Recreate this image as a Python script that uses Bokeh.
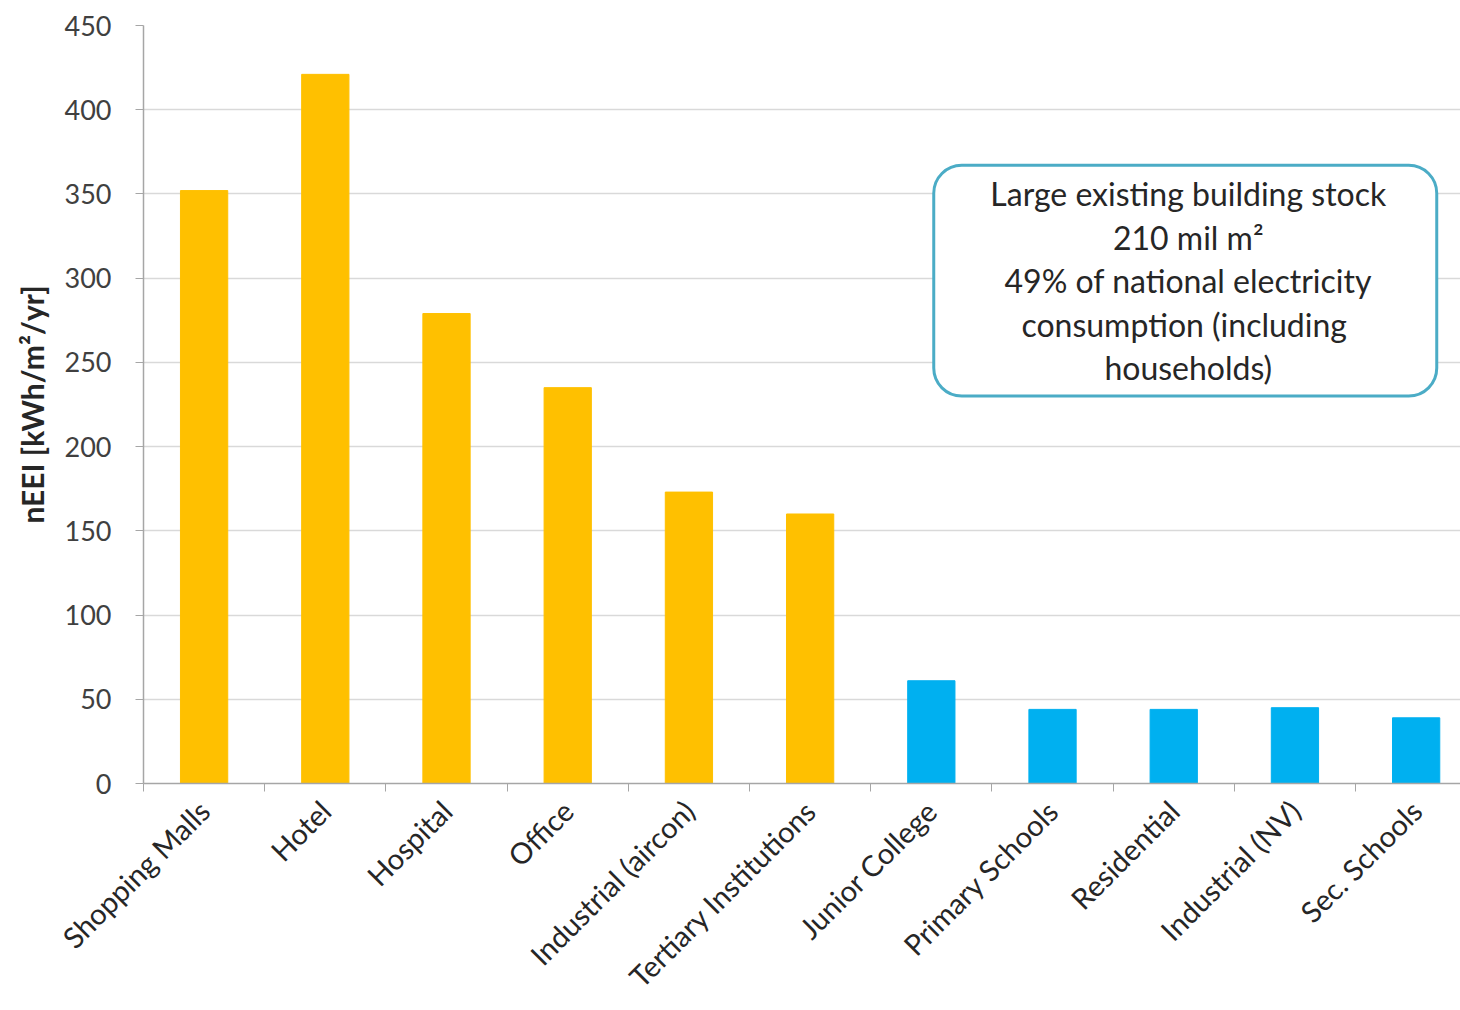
import math
from bokeh.plotting import figure
from bokeh.models import FixedTicker, BoxAnnotation, Label, ColumnDataSource
from bokeh.embed import file_html
from bokeh.resources import INLINE

# ---- data ----
categories = ["Shopping Malls", "Hotel", "Hospital", "Office", "Industrial (aircon)",
              "Tertiary Institutions", "Junior College", "Primary Schools", "Residential",
              "Industrial (NV)", "Sec. Schools"]
neei = [352, 421, 279, 235, 173, 160, 61, 44, 44, 45, 39]
groups = ["air-conditioned"] * 6 + ["naturally ventilated"] * 5
y_ticks = [0, 50, 100, 150, 200, 250, 300, 350, 400, 450]
y_label = "nEEI [kWh/m\u00b2/yr]"
note_lines = ["Large existing building stock", "210 mil m\u00b2",
              "49% of national electricity", "consumption  (including", "households)"]

group_colors = {"air-conditioned": "#FFC000", "naturally ventilated": "#00B0F0"}
FONT = "Lato"

centers = [i + 0.5 for i in range(len(categories))]
bounds = [i for i in range(len(categories) + 1)]
src = ColumnDataSource(dict(x=centers, top=neei, cat=categories,
                            color=[group_colors[g] for g in groups]))

p = figure(width=1460, height=1010, output_backend="svg", toolbar_location=None,
           x_range=(0, 10.866), y_range=(0, 450),
           min_border_left=143, min_border_right=0, min_border_top=25, min_border_bottom=227)
p.outline_line_color = None
p.background_fill_color = "white"

p.vbar(x="x", top="top", width=0.39, bottom=0, color="color", source=src)

# x axis: labels at category centres, tick marks at category boundaries
p.xaxis.ticker = FixedTicker(ticks=centers, minor_ticks=bounds)
p.xaxis.major_label_overrides = {c: n for c, n in zip(centers, categories)}
p.xaxis.major_label_orientation = math.pi / 4
p.xaxis.major_tick_line_color = None
p.xaxis.major_tick_out = 0
p.xaxis.major_tick_in = 0
p.xaxis.minor_tick_out = 8
p.xaxis.minor_tick_in = 0
p.xaxis.minor_tick_line_color = "#A6A6A6"
p.xaxis.axis_line_color = "#A6A6A6"
p.xaxis.axis_line_width = 1.5
p.xaxis.major_label_text_font = FONT
p.xaxis.major_label_text_font_size = "29px"
p.xaxis.major_label_text_color = "#262626"
p.xaxis.major_label_standoff = 14
p.xgrid.grid_line_color = None

# y axis
p.yaxis.ticker = FixedTicker(ticks=y_ticks, minor_ticks=[])
p.yaxis.major_tick_out = 8
p.yaxis.major_tick_in = 0
p.yaxis.major_tick_line_color = "#A6A6A6"
p.yaxis.axis_line_color = "#A6A6A6"
p.yaxis.axis_line_width = 1.5
p.yaxis.minor_tick_line_color = None
p.yaxis.major_label_text_font = FONT
p.yaxis.major_label_text_font_size = "27px"
p.yaxis.major_label_text_color = "#404040"
p.yaxis.major_label_standoff = 24
p.yaxis.axis_label = y_label
p.yaxis.axis_label_text_font = FONT
p.yaxis.axis_label_text_font_size = "30px"
p.yaxis.axis_label_text_font_style = "bold"
p.yaxis.axis_label_text_color = "#262626"
p.yaxis.axis_label_standoff = 12
p.ygrid.grid_line_color = "#D9D9D9"
p.ygrid.grid_line_width = 1.5

# annotation box
box = BoxAnnotation(left=6.52, right=10.67, bottom=230, top=367,
                    fill_color="white", fill_alpha=1.0,
                    line_color="#4BACC6", line_alpha=1.0, line_width=3, border_radius=28)
p.add_layout(box)
cx = 8.62
y0 = 350
dy = 25.8
for i, t in enumerate(note_lines):
    p.add_layout(Label(x=cx, y=y0 - i * dy, text=t, text_align="center",
                       text_baseline="middle", text_font=FONT,
                       text_font_size="32px", text_color="#262626"))

open("out.html", "w").write(file_html(p, INLINE))
